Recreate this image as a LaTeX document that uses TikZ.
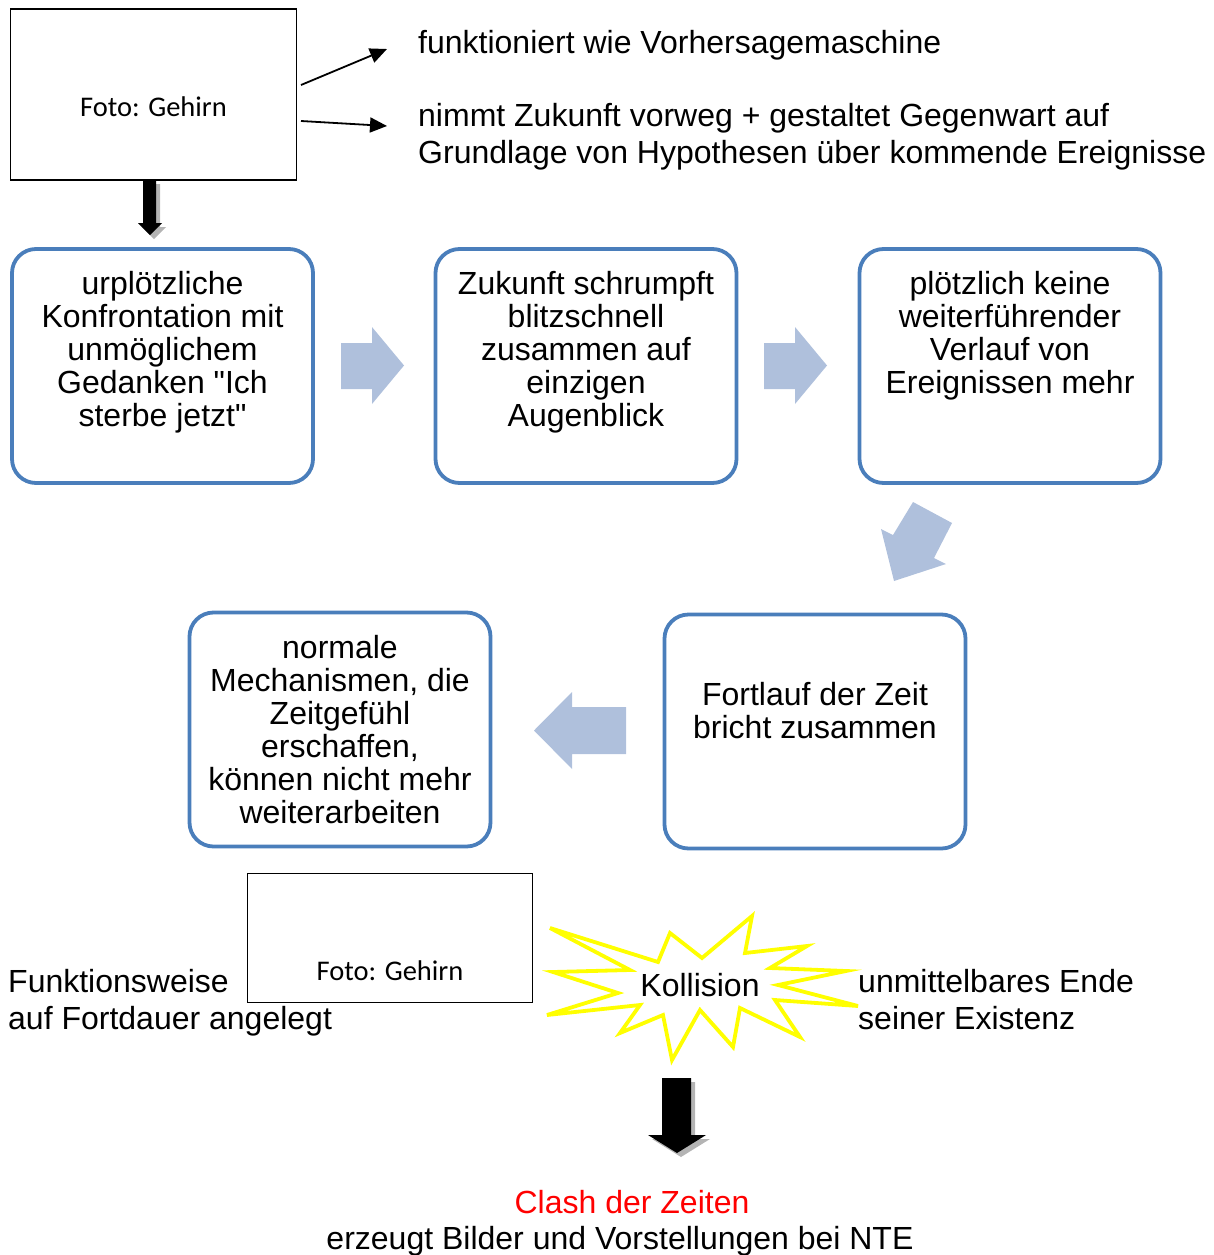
\documentclass[tikz,border=0pt]{standalone}
\usepackage{fontspec}
\setmainfont{Liberation Sans}
\newfontfamily\calibrifont{Carlito}
\usetikzlibrary{arrows.meta,positioning}
\definecolor{boxblue}{HTML}{4A7EBB}
\definecolor{arrowblue}{HTML}{AFC0DC}
\definecolor{burstyellow}{HTML}{FFFF00}
\definecolor{shadowgray}{HTML}{B4B4B4}
\definecolor{clashred}{HTML}{FF0000}

\begin{document}
\begin{tikzpicture}[x=1pt,y=-1pt,
  every node/.style={font=\fontsize{32}{37}\selectfont,inner sep=0pt},
  flowbox/.style={rectangle,rounded corners=24pt,draw=boxblue,line width=3.8pt,minimum width=301pt,minimum height=234pt},
  flowtext/.style={align=center,font=\fontsize{32}{33}\selectfont},
  photo/.style={rectangle,draw=black,line width=1.5pt},
  phototext/.style={font=\calibrifont\fontsize{28.5}{34}\selectfont},
  sidetext/.style={align=left,anchor=north west},
  thinarrow/.style={-{Triangle[length=17pt,width=15pt]},line width=1.8pt},
  blockarrow/.style={fill=arrowblue},
  burst/.style={draw=burstyellow,line width=3.8pt,line join=miter,fill=white}
]
\useasboundingbox (0,0) rectangle (1213,1255);

% top: photo and prediction
\node[photo,minimum width=286pt,minimum height=171pt] (foto1) at (153.5,94.5) {};
\node[phototext] (fotolabel1) at (153.5,107) {Foto: Gehirn};
\node[anchor=base west] (predict) at (418,54) {funktioniert wie Vorhersagemaschine};
\node[sidetext] (anticipate) at (418,103) {nimmt Zukunft vorweg + gestaltet Gegenwart auf\\Grundlage von Hypothesen über kommende Ereignisse};
\coordinate (predictfrom) at (301,85);
\coordinate (predictto) at (387,49);
\coordinate (anticipatefrom) at (301,121);
\coordinate (anticipateto) at (387,126);
\draw[thinarrow] (predictfrom) -- (predictto);
\draw[thinarrow] (anticipatefrom) -- (anticipateto);

% black arrow into first box
\fill[shadowgray] (147,184) -- (160,184) -- (160,227) -- (166,227) -- (154,239) -- (142,227) -- (147,227) -- cycle;
\fill[black] (143,180) -- (156,180) -- (156,223) -- (162,223) -- (150,235) -- (138,223) -- (143,223) -- cycle;

% flow boxes
\node[flowbox] (confront) at (162.5,366) {};
\node[flowbox] (shrink) at (586,366) {};
\node[flowbox] (noflow) at (1010,366) {};
\node[flowbox] (mechanisms) at (340,729.5) {};
\node[flowbox] (breakdown) at (815,731.5) {};

\node[flowtext,anchor=north] (confronttext) at (162.5,271) {urplötzliche\\Konfrontation mit\\unmöglichem\\Gedanken \textquotedbl Ich\\sterbe jetzt\textquotedbl};
\node[flowtext,anchor=north] (shrinktext) at (586,271) {Zukunft schrumpft\\blitzschnell\\zusammen auf\\einzigen\\Augenblick};
\node[flowtext,anchor=north] (noflowtext) at (1010,271) {plötzlich keine\\weiterführender\\Verlauf von\\Ereignissen mehr};
\node[flowtext,anchor=north] (mechanismstext) at (340,635) {normale\\Mechanismen, die\\Zeitgefühl\\erschaffen,\\können nicht mehr\\weiterarbeiten};
\node[flowtext,anchor=north] (breakdowntext) at (815,682) {Fortlauf der Zeit\\bricht zusammen};

% block arrows between boxes
\fill[blockarrow] (341,343) -- (372,343) -- (372,327) -- (404,365.5) -- (372,404) -- (372,389) -- (341,389) -- cycle;
\fill[blockarrow] (764,343) -- (795,343) -- (795,327) -- (827,365.5) -- (795,404) -- (795,389) -- (764,389) -- cycle;
\fill[blockarrow] (913,502) -- (952,523) -- (934,558) -- (946,564) -- (894,581) -- (881,529) -- (893,535) -- cycle;
\fill[blockarrow] (626,707) -- (572,707) -- (572,692) -- (534,730.5) -- (572,769) -- (572,754) -- (626,754) -- cycle;

% bottom: second photo and collision
\node[photo,minimum width=285pt,minimum height=129pt] (foto2) at (390,938) {};
\node[phototext] (fotolabel2) at (390,971) {Foto: Gehirn};
\node[sidetext] (duration) at (8,969) {Funktionsweise\\auf Fortdauer angelegt};
\node[sidetext] (ending) at (858,969) {unmittelbares Ende\\seiner Existenz};

\draw[burst] (550,928) -- (658,962) -- (670,933) -- (702,958) -- (752,916) -- (745,953)
  -- (807,946) -- (770,968) -- (846,971) -- (778,985) -- (858,1006) -- (775,1000)
  -- (800,1037) -- (740,1008) -- (733,1047) -- (700,1010) -- (672,1060) -- (663,1015)
  -- (620,1033) -- (640,1005) -- (547,1015) -- (618,993) -- (553,972) -- (630,970) -- cycle;
\node[anchor=base] (collision) at (700,996) {Kollision};

% black arrow to result
\fill[shadowgray] (666,1082) -- (695,1082) -- (695,1139) -- (710,1139) -- (681,1157) -- (652,1139) -- (666,1139) -- cycle;
\fill[black] (662,1078) -- (691,1078) -- (691,1135) -- (706,1135) -- (677,1153) -- (648,1135) -- (662,1135) -- cycle;

\node[anchor=base,text=clashred] (clash) at (632,1213) {Clash der Zeiten};
\node[anchor=base] (images) at (620,1249) {erzeugt Bilder und Vorstellungen bei NTE};
\end{tikzpicture}
\end{document}
